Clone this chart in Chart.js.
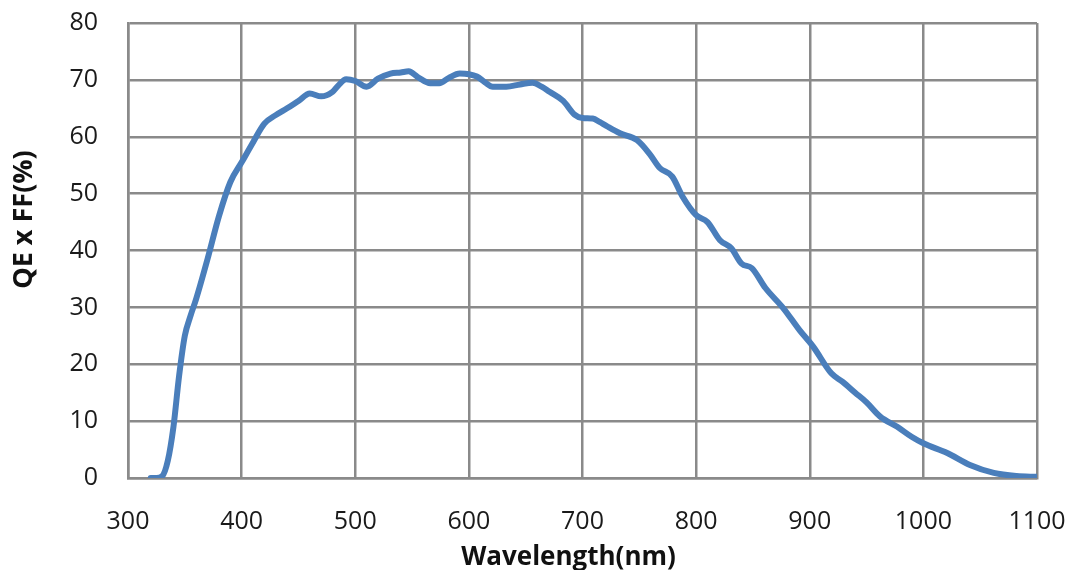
<!DOCTYPE html>
<html>
<head>
<meta charset="utf-8">
<script src="https://cdn.jsdelivr.net/npm/chart.js@4"></script>
<style>
  html, body { margin: 0; padding: 0; background: #fff; }
  #wrap { width: 1073px; height: 570px; position: relative; }
</style>
</head>
<body>
<div id="wrap"><canvas id="qeChart"></canvas></div>
<script>
// QE x FF curve
const wavelengths = [320, 325, 330, 335, 340, 345, 350, 355, 360, 370, 380, 390, 400, 410, 420, 430, 440, 450, 460, 470,
    480, 485, 492, 500, 510, 520, 531, 540, 547, 555, 566, 574, 582, 592, 600, 607, 614, 621, 633, 645,
    656, 664, 671, 683, 693, 700, 709, 715, 721, 733, 748, 759, 768, 779, 788, 800, 810, 821, 831, 840,
    849, 861, 877, 891, 903, 919, 929, 940, 950, 962, 977, 990, 1000, 1021, 1041, 1062, 1082, 1100];
const qeValues = [0, 0, 0.3, 3, 9, 18, 25, 28.5, 31.5, 38.5, 46, 52, 55.5, 59, 62.3, 63.8, 65, 66.3, 67.6, 67.1,
    67.9, 69, 70.1, 69.8, 68.8, 70.2, 71.1, 71.3, 71.5, 70.5, 69.4, 69.4, 70.3, 71.1, 71, 70.6, 69.6, 68.8, 68.8, 69.2,
    69.5, 68.8, 67.9, 66.3, 63.9, 63.3, 63.2, 62.6, 61.9, 60.6, 59.4, 57, 54.5, 53, 49.5, 46.2, 45, 41.8, 40.4, 37.7,
    36.9, 33.4, 29.8, 26, 23.1, 18.4, 16.9, 15, 13.3, 10.8, 9, 7.2, 6.1, 4.4, 2.3, 0.9, 0.35, 0.2];
const xTicks = [300, 400, 500, 600, 700, 800, 900, 1000, 1100];
const yTicks = [0, 10, 20, 30, 40, 50, 60, 70, 80];
const xTitle = 'Wavelength(nm)';
const yTitle = 'QE x FF(%)';

const gridColor = '#8a8a8a';
const tickFont = { family: 'Open Sans', size: 25 };

// The original titles sit a bit off the plot centre, so draw them by hand
const axisTitles = {
    id: 'axisTitles',
    afterDraw(chart) {
        const ctx = chart.ctx;
        const area = chart.chartArea;
        ctx.save();
        ctx.fillStyle = '#111';
        ctx.textAlign = 'center';
        ctx.textBaseline = 'middle';

        ctx.font = 'bold 26px "Open Sans"';
        ctx.fillText(xTitle, (area.left + area.right) / 2 - 14, 558);

        ctx.font = 'bold 27px "Open Sans"';
        ctx.translate(24, (area.top + area.bottom) / 2 - 31);
        ctx.rotate(-Math.PI / 2);
        ctx.fillText(yTitle, 0, 0);
        ctx.restore();
    }
};

const points = wavelengths.map((w, i) => ({ x: w, y: qeValues[i] }));

const ctx = document.getElementById('qeChart').getContext('2d');
new Chart(ctx, {
    type: 'line',
    data: {
        datasets: [{
            label: 'QE x FF',
            data: points,
            borderColor: '#4a7ebb',
            borderWidth: 6,
            pointRadius: 0,
            fill: false,
            cubicInterpolationMode: 'monotone',
            borderCapStyle: 'round',
            borderJoinStyle: 'round'
        }]
    },
    options: {
        responsive: true,
        maintainAspectRatio: false,
        animation: false,
        layout: { padding: { top: 23, right: 36, left: 0, bottom: 0 } },
        plugins: {
            legend: { display: false },
            tooltip: { enabled: false }
        },
        scales: {
            x: {
                type: 'linear',
                min: 300,
                max: 1100,
                afterBuildTicks: (scale) => { scale.ticks = xTicks.map(v => ({ value: v })); },
                afterFit: (scale) => {
                    scale.height = 92;
                    scale.paddingLeft = 0;
                    scale.paddingRight = 0;
                },
                ticks: { color: '#1a1a1a', font: tickFont, padding: 29, maxRotation: 0, callback: (v) => String(v) },
                grid: { color: gridColor, lineWidth: 2.5, drawTicks: false },
                border: { color: gridColor, width: 2.5 }
            },
            y: {
                min: 0,
                max: 80,
                afterBuildTicks: (scale) => { scale.ticks = yTicks.map(v => ({ value: v })); },
                afterFit: (scale) => {
                    scale.width = 128;
                    scale.paddingTop = 0;
                    scale.paddingBottom = 0;
                },
                ticks: { color: '#1a1a1a', font: tickFont, padding: 30, callback: (v) => String(v) },
                grid: { color: gridColor, lineWidth: 2.5, drawTicks: false },
                border: { color: gridColor, width: 2.5 }
            }
        }
    },
    plugins: [axisTitles]
});
</script>
</body>
</html>
